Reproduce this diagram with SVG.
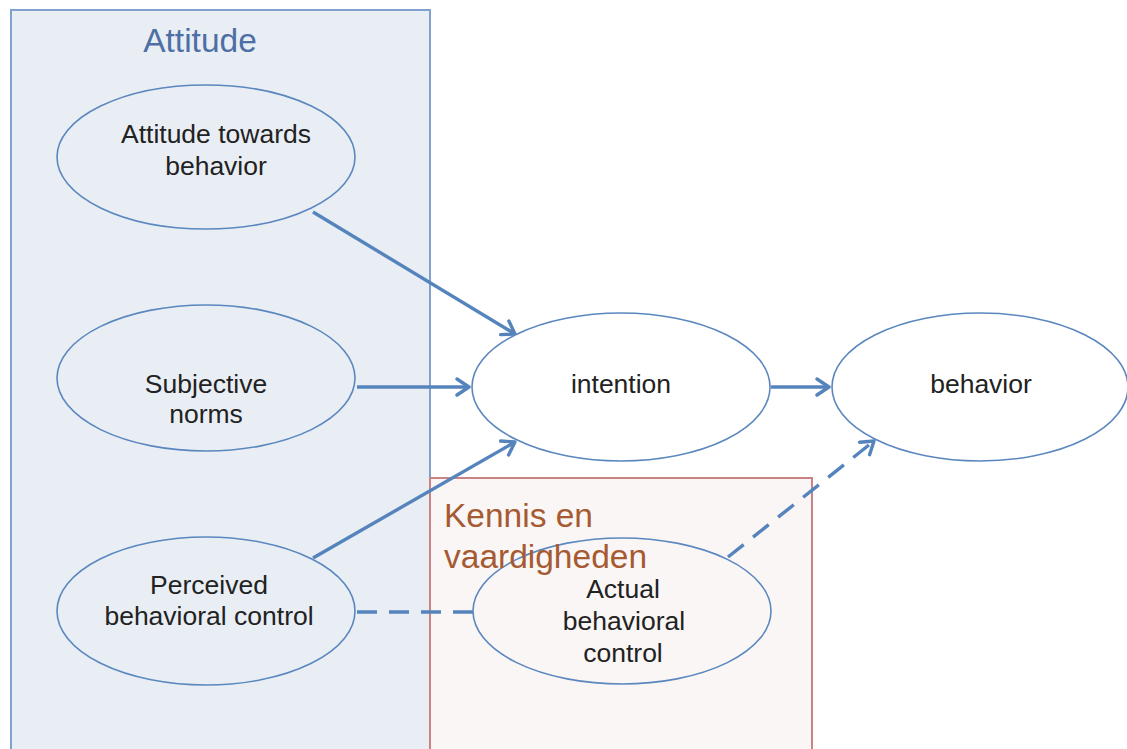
<svg xmlns="http://www.w3.org/2000/svg" width="1127" height="749" viewBox="0 0 1127 749">
<style>
.node ellipse{stroke:#5b87bf;stroke-width:1.6}
.lbl{font-family:"Liberation Sans",Arial,sans-serif;font-size:26.5px;fill:#222;text-anchor:middle}
.conn{stroke:#5584bd;stroke-width:3.4;fill:none}
.dash{stroke-dasharray:20 12}
.title{font-family:"Liberation Sans",Arial,sans-serif;font-size:33.5px}
</style>
<defs>
<marker id="arr" markerUnits="userSpaceOnUse" markerWidth="20" markerHeight="20" viewBox="-14 -10 16 20" refX="0" refY="0" orient="auto">
<path d="M-12,-8 L0,0 L-12,8" fill="none" stroke="#5584bd" stroke-width="3.4" stroke-linecap="round" stroke-linejoin="round"/>
</marker>
</defs>
<rect width="1127" height="749" fill="#ffffff"/>
<g id="group-attitude">
<rect x="11" y="10" width="419" height="760" fill="#e9eef5" stroke="#7fa2cf" stroke-width="2"/>
<text class="title" x="200" y="52" text-anchor="middle" fill="#4d6fa5">Attitude</text>
</g>
<g id="group-kennis">
<rect x="430" y="478" width="382" height="300" fill="#f9f6f5" stroke="#c98383" stroke-width="2"/>
</g>
<g id="connectors">
<line class="conn" x1="313" y1="212" x2="515" y2="334" marker-end="url(#arr)"/>
<line class="conn" x1="357" y1="387" x2="469" y2="387" marker-end="url(#arr)"/>
<line class="conn" x1="313" y1="558" x2="515" y2="442" marker-end="url(#arr)"/>
<line class="conn" x1="771" y1="387" x2="829" y2="387" marker-end="url(#arr)"/>
<line class="conn dash" x1="357" y1="612" x2="473" y2="612"/>
<line class="conn dash" x1="728" y1="557" x2="874" y2="441" marker-end="url(#arr)"/>
</g>
<g id="node-attitude-towards-behavior" class="node">
<ellipse cx="206" cy="157" rx="149" ry="72" fill="#e9eef5"/>
<text class="lbl" x="216" y="143">Attitude towards</text>
<text class="lbl" x="216" y="175">behavior</text>
</g>
<g id="node-subjective-norms" class="node">
<ellipse cx="206" cy="378" rx="149" ry="73" fill="#e9eef5"/>
<text class="lbl" x="206" y="393">Subjective</text>
<text class="lbl" x="206" y="423">norms</text>
</g>
<g id="node-perceived-behavioral-control" class="node">
<ellipse cx="206" cy="611" rx="149" ry="74" fill="#e9eef5"/>
<text class="lbl" x="209" y="594">Perceived</text>
<text class="lbl" x="209" y="625">behavioral control</text>
</g>
<g id="node-intention" class="node">
<ellipse cx="621" cy="387" rx="149" ry="74" fill="#ffffff"/>
<text class="lbl" x="621" y="393">intention</text>
</g>
<g id="node-behavior" class="node">
<ellipse cx="980" cy="387" rx="148" ry="74" fill="#ffffff"/>
<text class="lbl" x="981" y="393">behavior</text>
</g>
<g id="node-actual-behavioral-control" class="node">
<ellipse cx="622" cy="611" rx="149" ry="73" fill="#f9f6f5"/>
<text class="lbl" x="623" y="598">Actual</text>
<text class="lbl" x="624" y="630">behavioral</text>
<text class="lbl" x="623" y="662">control</text>
</g>
<g id="label-kennis">
<text class="title" x="444" y="527" fill="#a65a32">Kennis en</text>
<text class="title" x="444" y="568" fill="#a65a32">vaardigheden</text>
</g>
</svg>
